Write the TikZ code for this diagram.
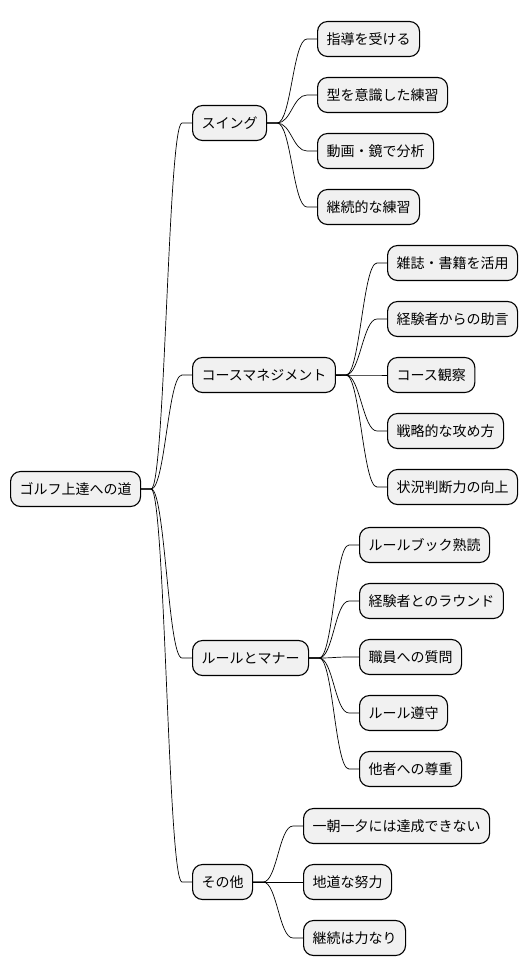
\documentclass[tikz,border=0pt]{standalone}
\usepackage{fontspec}
\usetikzlibrary{calc}
\setmainfont{Noto Sans CJK JP}
\begin{document}
\begin{tikzpicture}[x=1pt,y=-1pt,
  box/.style={draw=black,line width=1.1pt,fill=black!5.5,rounded corners=10pt,
    anchor=west,minimum height=35pt,inner xsep=9pt,inner ysep=0pt,
    font=\fontsize{14pt}{16pt}\selectfont},
  link/.style={draw=black,line width=0.7pt}]
\useasboundingbox (0,0) rectangle (530,978);
\node[box] (root) at (10,489) {ゴルフ上達への道};
\node[box] (s) at (192,123) {スイング};
\node[box] (c) at (192,375) {コースマネジメント};
\node[box] (r) at (192,658) {ルールとマナー};
\node[box] (o) at (192,882) {その他};
\node[box] (s1) at (317,39) {指導を受ける};
\node[box] (s2) at (317,95) {型を意識した練習};
\node[box] (s3) at (317,151) {動画・鏡で分析};
\node[box] (s4) at (317,207) {継続的な練習};
\node[box] (c1) at (387,263) {雑誌・書籍を活用};
\node[box] (c2) at (387,319) {経験者からの助言};
\node[box] (c3) at (387,375) {コース観察};
\node[box] (c4) at (387,431) {戦略的な攻め方};
\node[box] (c5) at (387,487) {状況判断力の向上};
\node[box] (r1) at (359,545) {ルールブック熟読};
\node[box] (r2) at (359,601) {経験者とのラウンド};
\node[box] (r3) at (359,657) {職員への質問};
\node[box] (r4) at (359,713) {ルール遵守};
\node[box] (r5) at (359,769) {他者への尊重};
\node[box] (o1) at (303,826) {一朝一夕には達成できない};
\node[box] (o2) at (303,882) {地道な努力};
\node[box] (o3) at (303,938) {継続は力なり};
\foreach \p/\c in {root/s,root/c,root/r,root/o,s/s1,s/s2,s/s3,s/s4,c/c1,c/c2,c/c3,c/c4,c/c5,r/r1,r/r2,r/r3,r/r4,r/r5,o/o1,o/o2,o/o3}{
  \draw[link] (\p.east) -- ++(10,0) .. controls +(14,0) and ($(\c.west)+(-24,0)$) .. ($(\c.west)+(-10,0)$) -- (\c.west);
}
\end{tikzpicture}
\end{document}
